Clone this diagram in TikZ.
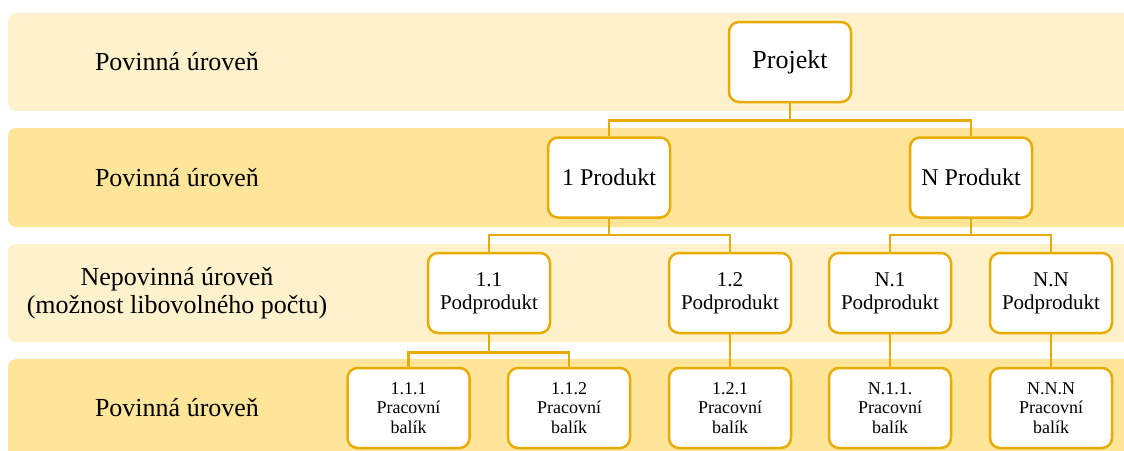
\documentclass[tikz,border=0pt]{standalone}
\usepackage{fontspec}
\setmainfont{Liberation Serif}
\usepackage{tikz}
\definecolor{WbsGold}{RGB}{232,172,0}
\definecolor{BandLight}{RGB}{255,241,204}
\definecolor{BandDark}{RGB}{255,229,153}
\tikzset{%
  band/.style={rounded corners=8pt},
  level label/.style={font=\fontsize{26}{27.5}\selectfont, align=center},
  wbs box/.style={draw=WbsGold, line width=2.5pt, fill=white, rounded corners=10pt,
    minimum width=122pt, minimum height=80pt, align=center, inner sep=2pt},
  project box/.style={wbs box, font=\fontsize{26}{28}\selectfont},
  product box/.style={wbs box, font=\fontsize{24}{26}\selectfont},
  sub box/.style={wbs box, font=\fontsize{21}{23}\selectfont},
  package box/.style={wbs box, font=\fontsize{18}{19.5}\selectfont},
  link/.style={draw=WbsGold, line width=2.5pt}
}

\begin{document}
\begin{tikzpicture}[x=1pt, y=-1pt]
  \useasboundingbox (0,0) rectangle (1124,450);
  \clip (0,0) rectangle (1124,450);
  % levels
  \foreach \top/\bot/\col in {13/111/BandLight, 128/227/BandDark, 244/342/BandLight, 359/458/BandDark} {
    \fill[band, \col] (8,\top) rectangle (1140,\bot);
  }
  \node[level label] (lvl1) at (177,62) {Povinná úroveň};
  \node[level label] (lvl2) at (177,177.5) {Povinná úroveň};
  \node[level label] (lvl3) at (177,293) {Nepovinná úroveň\\(možnost libovolného počtu)};
  \node[level label] (lvl4) at (177,408) {Povinná úroveň};

  % tree
  \node[project box] (proj) at (790,62) {Projekt};
  \node[product box] (prod1) at (609,177.5) {1 Produkt};
  \node[product box] (prodN) at (971,177.5) {N Produkt};
  \node[sub box] (sub11) at (489,293) {1.1\\Podprodukt};
  \node[sub box] (sub12) at (730,293) {1.2\\Podprodukt};
  \node[sub box] (subN1) at (890,293) {N.1\\Podprodukt};
  \node[sub box] (subNN) at (1051,293) {N.N\\Podprodukt};
  \node[package box] (wp111) at (408.5,408) {1.1.1\\Pracovní\\balík};
  \node[package box] (wp112) at (569,408) {1.1.2\\Pracovní\\balík};
  \node[package box] (wp121) at (730,408) {1.2.1\\Pracovní\\balík};
  \node[package box] (wpN11) at (890,408) {N.1.1.\\Pracovní\\balík};
  \node[package box] (wpNNN) at (1051,408) {N.N.N\\Pracovní\\balík};

  \draw[link] (proj.south) -- ++(0,17) -| (prod1.north);
  \draw[link] (proj.south) -- ++(0,17) -| (prodN.north);
  \draw[link] (prod1.south) -- ++(0,16) -| (sub11.north);
  \draw[link] (prod1.south) -- ++(0,16) -| (sub12.north);
  \draw[link] (prodN.south) -- ++(0,16) -| (subN1.north);
  \draw[link] (prodN.south) -- ++(0,16) -| (subNN.north);
  \draw[link] (sub11.south) -- ++(0,18) -| (wp111.north);
  \draw[link] (sub11.south) -- ++(0,18) -| (wp112.north);
  \draw[link] (sub12.south) -- (wp121.north);
  \draw[link] (subN1.south) -- (wpN11.north);
  \draw[link] (subNN.south) -- (wpNNN.north);
\end{tikzpicture}
\end{document}
